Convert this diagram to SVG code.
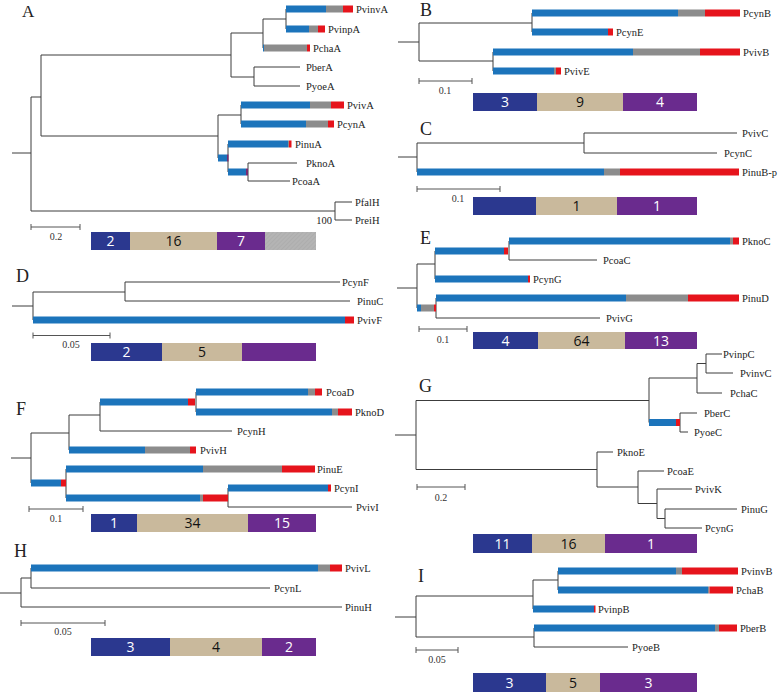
<svg xmlns="http://www.w3.org/2000/svg" width="778" height="694" viewBox="0 0 778 694">
<defs>
<pattern id="hatch" width="3" height="3" patternUnits="userSpaceOnUse" patternTransform="rotate(45)">
<rect width="3" height="3" fill="#b4b4b4"/>
<line x1="0" y1="0" x2="0" y2="3" stroke="#a6a6a6" stroke-width="1"/>
</pattern>
</defs>
<style>
.ln{stroke:#3c3c3c;stroke-width:1;fill:none}
.sc{stroke:#555;stroke-width:1;fill:none}
.b{fill:#1c74bb}
.g{fill:#8c8c8c}
.r{fill:#e6141c}
.p{fill:#7a2a70}
.lbl{font-family:"Liberation Serif",serif;font-size:10.5px;fill:#222}
.pl{font-family:"Liberation Serif",serif;font-size:18px;fill:#222}
.sl{font-family:"Liberation Serif",serif;font-size:10px;fill:#333;text-anchor:middle}
.nv{fill:#2b388f}
.tn{fill:#c9b99c}
.pu{fill:#6a2b8e}
.ct{font-family:"Open Sans","Liberation Sans",sans-serif;font-size:14px;text-anchor:middle}
.w{fill:#fff}
.k{fill:#111}
</style>
<rect width="778" height="694" fill="#fff"/>

<!-- Panel A -->
<g id="panelA">
<text class="pl" x="22" y="17" style="font-size:17px">A</text>
<g id="A-connectors">
<path class="ln" d="M12,153H31M31,97V211M31,97H41M41,55V136M41,55H231M231,33V77M231,33H263M263,19V48M263,19H286M286,9V29M231,77H254M254,67V86M254,67H300M254,86H300M41,136H218M218,115V158M218,115H241M241,105V124M228,144V172M248,163V181M248,163H297M248,181H290M31,211H335M335,202V220M335,202H352M335,220H352"/>
<rect class="b" x="286" y="5.5" width="40" height="7"/><rect class="g" x="326" y="5.5" width="17" height="7"/><rect class="r" x="343" y="5.5" width="10" height="7"/>
<rect class="b" x="286" y="25.5" width="23" height="7"/><rect class="g" x="309" y="25.5" width="9" height="7"/><rect class="r" x="318" y="25.5" width="7" height="7"/>
<rect class="b" x="263" y="44.5" width="1" height="7"/><rect class="g" x="264" y="44.5" width="43" height="7"/><rect class="r" x="307" y="44.5" width="3" height="7"/>
<rect class="b" x="241" y="101.5" width="69" height="7"/><rect class="g" x="310" y="101.5" width="21" height="7"/><rect class="r" x="331" y="101.5" width="13" height="7"/>
<rect class="b" x="241" y="120.5" width="65" height="7"/><rect class="g" x="306" y="120.5" width="22" height="7"/><rect class="r" x="328" y="120.5" width="6" height="7"/>
<rect class="b" x="218" y="154.5" width="9" height="7"/><rect class="p" x="227" y="154.5" width="1.5" height="7"/>
<rect class="b" x="228" y="140.5" width="60" height="7"/><rect class="g" x="288" y="140.5" width="1" height="7"/><rect class="r" x="289" y="140.5" width="2.5" height="7"/>
<rect class="b" x="228" y="168.5" width="18" height="7"/><rect class="p" x="246" y="168.5" width="2" height="7"/>
</g>
<g id="A-PvinvA"><text class="lbl" x="356" y="12.5">PvinvA</text></g>
<g id="A-PvinpA"><text class="lbl" x="328" y="32.5">PvinpA</text></g>
<g id="A-PchaA"><text class="lbl" x="313" y="51.5">PchaA</text></g>
<g id="A-PberA"><text class="lbl" x="306" y="70.5">PberA</text></g>
<g id="A-PyoeA"><text class="lbl" x="306" y="89.5">PyoeA</text></g>
<g id="A-PvivA"><text class="lbl" x="347" y="108.5">PvivA</text></g>
<g id="A-PcynA"><text class="lbl" x="337" y="127.5">PcynA</text></g>
<g id="A-PinuA"><text class="lbl" x="295" y="147.5">PinuA</text></g>
<g id="A-PknoA"><text class="lbl" x="306" y="166.5">PknoA</text></g>
<g id="A-PcoaA"><text class="lbl" x="292" y="184.5">PcoaA</text></g>
<g id="A-PfalH"><text class="lbl" x="355" y="205.5">PfalH</text></g>
<g id="A-PreiH"><text class="lbl" x="355" y="223.5">PreiH</text></g>
<text class="lbl" x="332" y="223.5" text-anchor="end">100</text>
<g id="A-scale"><path class="sc" d="M31,227H80M31,224V230M80,224V230"/><text class="sl" x="56" y="240">0.2</text></g>
<g id="A-counts">
<rect class="nv" x="91" y="232" width="39" height="18"/><rect class="tn" x="130" y="232" width="87" height="18"/><rect class="pu" x="217" y="232" width="48" height="18"/><rect fill="url(#hatch)" x="265" y="232" width="51" height="18"/>
<text class="ct w" x="110.5" y="246">2</text><text class="ct k" x="173.5" y="246">16</text><text class="ct w" x="241" y="246">7</text>
</g>
</g>

<!-- Panel B -->
<g id="panelB">
<text class="pl" x="420" y="16">B</text>
<g id="B-connectors">
<path class="ln" d="M398,42H419M419,23V61M419,23H532M532,13V32M419,61H493M493,52V71"/>
<rect class="b" x="532" y="9.5" width="146" height="7"/><rect class="g" x="678" y="9.5" width="27" height="7"/><rect class="r" x="705" y="9.5" width="35" height="7"/>
<rect class="b" x="532" y="28.5" width="76" height="7"/><rect class="r" x="608" y="28.5" width="5" height="7"/>
<rect class="b" x="493" y="48.5" width="140" height="7"/><rect class="g" x="633" y="48.5" width="67" height="7"/><rect class="r" x="700" y="48.5" width="40" height="7"/>
<rect class="b" x="493" y="67.5" width="61" height="7"/><rect class="g" x="554" y="67.5" width="2" height="7"/><rect class="r" x="556" y="67.5" width="5" height="7"/>
</g>
<g id="B-PcynB"><text class="lbl" x="743" y="16.5">PcynB</text></g>
<g id="B-PcynE"><text class="lbl" x="616" y="35.5">PcynE</text></g>
<g id="B-PvivB"><text class="lbl" x="743" y="55.5">PvivB</text></g>
<g id="B-PvivE"><text class="lbl" x="564" y="74.5">PvivE</text></g>
<g id="B-scale"><path class="sc" d="M419,81H472M419,78V84M472,78V84"/><text class="sl" x="445" y="94">0.1</text></g>
<g id="B-counts">
<rect class="nv" x="473" y="93" width="64" height="18"/><rect class="tn" x="537" y="93" width="86" height="18"/><rect class="pu" x="623" y="93" width="74" height="18"/>
<text class="ct w" x="505" y="107">3</text><text class="ct k" x="580" y="107">9</text><text class="ct w" x="660" y="107">4</text>
</g>
</g>

<!-- Panel C -->
<g id="panelC">
<text class="pl" x="420" y="135">C</text>
<g id="C-connectors">
<path class="ln" d="M398,157H417M417,143V172M417,143H584M584,133V153M584,133H737M584,153H717"/>
<rect class="b" x="417" y="168.5" width="187" height="7"/><rect class="g" x="604" y="168.5" width="16" height="7"/><rect class="r" x="620" y="168.5" width="119" height="7"/>
</g>
<g id="C-PvivC"><text class="lbl" x="742" y="136.5">PvivC</text></g>
<g id="C-PcynC"><text class="lbl" x="724" y="156.5">PcynC</text></g>
<g id="C-PinuB-p"><text class="lbl" x="742" y="175.5">PinuB-p</text></g>
<g id="C-scale"><path class="sc" d="M417,189H500M417,186V192M500,186V192"/><text class="sl" x="458" y="202">0.1</text></g>
<g id="C-counts">
<rect class="nv" x="473" y="197" width="63" height="18"/><rect class="tn" x="536" y="197" width="81" height="18"/><rect class="pu" x="617" y="197" width="80" height="18"/>
<text class="ct k" x="576.5" y="211">1</text><text class="ct w" x="657" y="211">1</text>
</g>
</g>

<!-- Panel D -->
<g id="panelD">
<text class="pl" x="16" y="282">D</text>
<g id="D-connectors">
<path class="ln" d="M12,306H33M33,292V320M33,292H125M125,282V301M125,282H340M125,301H350"/>
<rect class="b" x="33" y="316.5" width="312" height="7"/><rect class="r" x="345" y="316.5" width="9" height="7"/>
</g>
<g id="D-PcynF"><text class="lbl" x="342" y="285.5">PcynF</text></g>
<g id="D-PinuC"><text class="lbl" x="357" y="304.5">PinuC</text></g>
<g id="D-PvivF"><text class="lbl" x="357" y="323.5">PvivF</text></g>
<g id="D-scale"><path class="sc" d="M33,335.5H110M33,332.5V338.5M110,332.5V338.5"/><text class="sl" x="71" y="348">0.05</text></g>
<g id="D-counts">
<rect class="nv" x="91" y="343" width="71" height="18"/><rect class="tn" x="162" y="343" width="80" height="18"/><rect class="pu" x="242" y="343" width="74" height="18"/>
<text class="ct w" x="126.5" y="357">2</text><text class="ct k" x="202" y="357">5</text>
</g>
</g>

<!-- Panel E -->
<g id="panelE">
<text class="pl" x="420" y="244">E</text>
<g id="E-connectors">
<path class="ln" d="M397,288H417M417,264V308M417,264H435M435,251V279M509,241V260M509,260H597M436,298V318M436,318H600"/>
<rect class="b" x="435" y="247.5" width="69" height="7"/><rect class="r" x="504" y="247.5" width="4" height="7"/>
<rect class="b" x="509" y="237.5" width="221" height="7"/><rect class="g" x="730" y="237.5" width="3" height="7"/><rect class="r" x="733" y="237.5" width="6" height="7"/>
<rect class="b" x="435" y="275.5" width="93" height="7"/><rect class="r" x="528" y="275.5" width="2" height="7"/>
<rect class="b" x="417" y="304.5" width="4" height="7"/><rect class="g" x="421" y="304.5" width="13" height="7"/><rect class="r" x="434" y="304.5" width="2" height="7"/>
<rect class="b" x="436" y="294.5" width="190" height="7"/><rect class="g" x="626" y="294.5" width="62" height="7"/><rect class="r" x="688" y="294.5" width="51" height="7"/>
</g>
<g id="E-PknoC"><text class="lbl" x="742" y="244.5">PknoC</text></g>
<g id="E-PcoaC"><text class="lbl" x="603" y="263.5">PcoaC</text></g>
<g id="E-PcynG"><text class="lbl" x="533" y="282.5">PcynG</text></g>
<g id="E-PinuD"><text class="lbl" x="742" y="301.5">PinuD</text></g>
<g id="E-PvivG"><text class="lbl" x="606" y="321.5">PvivG</text></g>
<g id="E-scale"><path class="sc" d="M419,329H467M419,326V332M467,326V332"/><text class="sl" x="443" y="343">0.1</text></g>
<g id="E-counts">
<rect class="nv" x="473" y="332" width="65" height="17"/><rect class="tn" x="538" y="332" width="87" height="17"/><rect class="pu" x="625" y="332" width="72" height="17"/>
<text class="ct w" x="505.5" y="345.5">4</text><text class="ct k" x="581.5" y="345.5">64</text><text class="ct w" x="661" y="345.5">13</text>
</g>
</g>

<!-- Panel F -->
<g id="panelF">
<text class="pl" x="16" y="415">F</text>
<g id="F-connectors">
<path class="ln" d="M11,458H31M31,433V483M31,433H69M69,415V450M69,415H100M100,402V431M196,392V412M100,431H232M66,469V498M228,488V507M228,507H352"/>
<rect class="b" x="100" y="398.5" width="88" height="7"/><rect class="r" x="188" y="398.5" width="7" height="7"/>
<rect class="b" x="196" y="388.5" width="112" height="7"/><rect class="g" x="308" y="388.5" width="7" height="7"/><rect class="r" x="315" y="388.5" width="7" height="7"/>
<rect class="b" x="196" y="408.5" width="136" height="7"/><rect class="g" x="332" y="408.5" width="6" height="7"/><rect class="r" x="338" y="408.5" width="14" height="7"/>
<rect class="b" x="69" y="446.5" width="76" height="7"/><rect class="g" x="145" y="446.5" width="45" height="7"/><rect class="r" x="190" y="446.5" width="6" height="7"/>
<rect class="b" x="31" y="479.5" width="30" height="7"/><rect class="r" x="61" y="479.5" width="5" height="7"/>
<rect class="b" x="66" y="465.5" width="137" height="7"/><rect class="g" x="203" y="465.5" width="79" height="7"/><rect class="r" x="282" y="465.5" width="33" height="7"/>
<rect class="b" x="66" y="494.5" width="134" height="7"/><rect class="g" x="200" y="494.5" width="3" height="7"/><rect class="r" x="203" y="494.5" width="25" height="7"/>
<rect class="b" x="228" y="484.5" width="100" height="7"/><rect class="r" x="328" y="484.5" width="3" height="7"/>
</g>
<g id="F-PcoaD"><text class="lbl" x="326" y="395.5">PcoaD</text></g>
<g id="F-PknoD"><text class="lbl" x="355" y="415.5">PknoD</text></g>
<g id="F-PcynH"><text class="lbl" x="237" y="434.5">PcynH</text></g>
<g id="F-PvivH"><text class="lbl" x="200" y="453.5">PvivH</text></g>
<g id="F-PinuE"><text class="lbl" x="317" y="472.5">PinuE</text></g>
<g id="F-PcynI"><text class="lbl" x="334" y="491.5">PcynI</text></g>
<g id="F-PvivI"><text class="lbl" x="356" y="510.5">PvivI</text></g>
<g id="F-scale"><path class="sc" d="M29,509H83M29,506V512M83,506V512"/><text class="sl" x="56" y="522">0.1</text></g>
<g id="F-counts">
<rect class="nv" x="91" y="514" width="46" height="18"/><rect class="tn" x="137" y="514" width="111" height="18"/><rect class="pu" x="248" y="514" width="68" height="18"/>
<text class="ct w" x="114" y="528">1</text><text class="ct k" x="192.5" y="528">34</text><text class="ct w" x="282" y="528">15</text>
</g>
</g>

<!-- Panel G -->
<g id="panelG">
<text class="pl" x="419" y="392">G</text>
<g id="G-connectors">
<path class="ln" d="M395,435H416M416,400.5V469.5M416,400.5H649M649,378V422.5M649,378H697M697,363.5V393M697,363.5H706M706,354V373M706,354H722M706,373H733M697,393H722M680,413V432M680,413H697M680,432H688M416,469.5H597M597,452V487M597,452H613M597,487H638M638,471V503.5M638,471H664M638,503.5H657M657,489V518.5M657,489H692M657,518.5H665M665,509V528M665,509H737M665,528H702"/>
<rect class="b" x="649" y="419" width="27" height="7"/><rect class="r" x="676" y="419" width="4" height="7"/>
</g>
<g id="G-PvinpC"><text class="lbl" x="723" y="357.5">PvinpC</text></g>
<g id="G-PvinvC"><text class="lbl" x="740" y="376.5">PvinvC</text></g>
<g id="G-PchaC"><text class="lbl" x="730" y="396.5">PchaC</text></g>
<g id="G-PberC"><text class="lbl" x="704" y="416.5">PberC</text></g>
<g id="G-PyoeC"><text class="lbl" x="694" y="435.5">PyoeC</text></g>
<g id="G-PknoE"><text class="lbl" x="617" y="455.5">PknoE</text></g>
<g id="G-PcoaE"><text class="lbl" x="667" y="474.5">PcoaE</text></g>
<g id="G-PvivK"><text class="lbl" x="695" y="492.5">PvivK</text></g>
<g id="G-PinuG"><text class="lbl" x="741" y="512.5">PinuG</text></g>
<g id="G-PcynG"><text class="lbl" x="705" y="531.5">PcynG</text></g>
<g id="G-scale"><path class="sc" d="M417,487H465M417,484V490M465,484V490"/><text class="sl" x="441" y="501">0.2</text></g>
<g id="G-counts">
<rect class="nv" x="473" y="534" width="59" height="19"/><rect class="tn" x="532" y="534" width="73" height="19"/><rect class="pu" x="605" y="534" width="92" height="19"/>
<text class="ct w" x="502.5" y="548.5">11</text><text class="ct k" x="568.5" y="548.5">16</text><text class="ct w" x="651" y="548.5">1</text>
</g>
</g>

<!-- Panel H -->
<g id="panelH">
<text class="pl" x="14" y="557">H</text>
<g id="H-connectors">
<path class="ln" d="M0,593H21M21,578V607M21,578H31M31,568V588M31,588H270M21,607H342"/>
<rect class="b" x="31" y="564.5" width="287" height="7"/><rect class="g" x="318" y="564.5" width="12" height="7"/><rect class="r" x="330" y="564.5" width="12" height="7"/>
</g>
<g id="H-PvivL"><text class="lbl" x="345" y="571.5">PvivL</text></g>
<g id="H-PcynL"><text class="lbl" x="274" y="591.5">PcynL</text></g>
<g id="H-PinuH"><text class="lbl" x="345" y="610.5">PinuH</text></g>
<g id="H-scale"><path class="sc" d="M21,623H105M21,620V626M105,620V626"/><text class="sl" x="63" y="635">0.05</text></g>
<g id="H-counts">
<rect class="nv" x="91" y="638" width="79" height="18"/><rect class="tn" x="170" y="638" width="92" height="18"/><rect class="pu" x="262" y="638" width="54" height="18"/>
<text class="ct w" x="130.5" y="652">3</text><text class="ct k" x="216" y="652">4</text><text class="ct w" x="289" y="652">2</text>
</g>
</g>

<!-- Panel I -->
<g id="panelI">
<text class="pl" x="418" y="582">I</text>
<g id="I-connectors">
<path class="ln" d="M395,617H416M416,596V637M416,596H533M533,580V609M533,580H558M558,571V590M416,637H534M534,628V647M534,647H628"/>
<rect class="b" x="558" y="567.5" width="118" height="7"/><rect class="g" x="676" y="567.5" width="6" height="7"/><rect class="r" x="682" y="567.5" width="56" height="7"/>
<rect class="b" x="558" y="586.5" width="150" height="7"/><rect class="g" x="708" y="586.5" width="1.5" height="7"/><rect class="r" x="709.5" y="586.5" width="23.5" height="7"/>
<rect class="b" x="533" y="605.5" width="61" height="7"/><rect class="r" x="594" y="605.5" width="1.5" height="7"/>
<rect class="b" x="534" y="624.5" width="181" height="7"/><rect class="g" x="715" y="624.5" width="4" height="7"/><rect class="r" x="719" y="624.5" width="18" height="7"/>
</g>
<g id="I-PvinvB"><text class="lbl" x="741" y="574.5">PvinvB</text></g>
<g id="I-PchaB"><text class="lbl" x="736" y="593.5">PchaB</text></g>
<g id="I-PvinpB"><text class="lbl" x="598" y="612.5">PvinpB</text></g>
<g id="I-PberB"><text class="lbl" x="740" y="631.5">PberB</text></g>
<g id="I-PyoeB"><text class="lbl" x="632" y="650.5">PyoeB</text></g>
<g id="I-scale"><path class="sc" d="M416,650H458M416,647V653M458,647V653"/><text class="sl" x="437" y="663">0.05</text></g>
<g id="I-counts">
<rect class="nv" x="473" y="673" width="73" height="19"/><rect class="tn" x="546" y="673" width="54" height="19"/><rect class="pu" x="600" y="673" width="97" height="19"/>
<text class="ct w" x="509.5" y="687.5">3</text><text class="ct k" x="573" y="687.5">5</text><text class="ct w" x="648.5" y="687.5">3</text>
</g>
</g>
</svg>
